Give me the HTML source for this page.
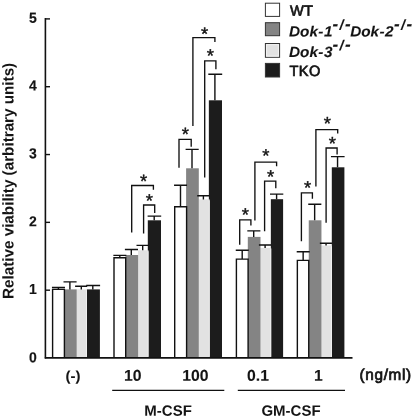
<!DOCTYPE html>
<html lang="en"><head><meta charset="utf-8"><title>Relative viability</title>
<style>
html,body{margin:0;padding:0;background:#fff;}
body{width:414px;height:420px;overflow:hidden;}
svg{display:block;}
text{font-family:"Liberation Sans", Arial, Helvetica, sans-serif;fill:#141414;}
.bi{stroke:#141414;stroke-width:0.1px;}
.bt{font-weight:normal;stroke:#141414;stroke-width:0.5px;letter-spacing:0.35px;}
.b{font-weight:bold;}
.bi{font-weight:bold;font-style:italic;}
.i{font-style:italic;}
.bh{stroke-width:0.7px;}
.bu{stroke-width:0.75px;letter-spacing:0.65px;}
.bd{font-weight:bold;stroke:#141414;stroke-width:0.08px;}
</style></head><body>
<svg width="414" height="420" viewBox="0 0 414 420">
<rect x="0" y="0" width="414" height="420" fill="#ffffff"/>
<g id="bars">
<rect x="86.90" y="289.40" width="13.00" height="68.35" fill="#1c1c1c"/>
<rect x="76.60" y="289.40" width="10.35" height="68.35" fill="#e2e2e2"/>
<rect x="86.05" y="290.40" width="0.9" height="66.35" fill="#f1f1f1"/>
<rect x="64.00" y="289.40" width="12.70" height="68.35" fill="#848484"/>
<path d="M52.60 357.75V289.40H64.40V357.75" fill="#ffffff" stroke="#111111" stroke-width="1.4"/>
<rect x="147.80" y="220.30" width="13.20" height="137.45" fill="#1c1c1c"/>
<rect x="138.00" y="250.30" width="10.50" height="107.45" fill="#e2e2e2"/>
<rect x="147.60" y="251.30" width="0.9" height="105.45" fill="#f1f1f1"/>
<rect x="125.40" y="255.00" width="12.70" height="102.75" fill="#848484"/>
<path d="M114.00 357.75V257.80H125.70V357.75" fill="#ffffff" stroke="#111111" stroke-width="1.4"/>
<rect x="208.85" y="100.30" width="13.15" height="257.45" fill="#1c1c1c"/>
<rect x="198.70" y="199.40" width="11.00" height="158.35" fill="#e2e2e2"/>
<rect x="208.80" y="200.40" width="0.9" height="156.35" fill="#f1f1f1"/>
<rect x="186.10" y="168.30" width="12.70" height="189.45" fill="#848484"/>
<path d="M174.70 357.75V206.80H186.60V357.75" fill="#ffffff" stroke="#111111" stroke-width="1.4"/>
<rect x="270.85" y="199.20" width="12.25" height="158.55" fill="#1c1c1c"/>
<rect x="260.40" y="247.90" width="10.80" height="109.85" fill="#e2e2e2"/>
<rect x="270.30" y="248.90" width="0.9" height="107.85" fill="#f1f1f1"/>
<rect x="247.80" y="236.90" width="12.70" height="120.85" fill="#848484"/>
<path d="M236.40 357.75V259.10H248.10V357.75" fill="#ffffff" stroke="#111111" stroke-width="1.4"/>
<rect x="331.80" y="167.30" width="12.60" height="190.45" fill="#1c1c1c"/>
<rect x="321.35" y="245.50" width="10.65" height="112.25" fill="#e2e2e2"/>
<rect x="331.10" y="246.50" width="0.9" height="110.25" fill="#f1f1f1"/>
<rect x="308.75" y="220.30" width="12.70" height="137.45" fill="#848484"/>
<path d="M297.35 357.75V260.40H308.75V357.75" fill="#ffffff" stroke="#111111" stroke-width="1.4"/>
</g>
<g id="errorbars" stroke="#111111" stroke-width="1.4" fill="none">
<path d="M92.80 289.40V285.50M86.20 285.50H100.10"/>
<path d="M81.30 289.40V286.30M75.10 286.30H87.20"/>
<path d="M69.90 289.40V281.90M63.50 281.90H76.60"/>
<path d="M58.40 289.40V287.50M51.95 287.50H64.95"/>
<path d="M154.20 220.30V216.10M147.60 216.10H161.20"/>
<path d="M142.70 250.30V245.40M136.50 245.40H148.60"/>
<path d="M131.30 255.00V249.50M124.90 249.50H138.00"/>
<path d="M119.80 257.80V255.40M113.35 255.40H126.35"/>
<path d="M214.90 100.30V74.30M208.30 74.30H222.20"/>
<path d="M203.40 199.40V195.80M197.20 195.80H209.30"/>
<path d="M192.00 168.30V149.40M185.60 149.40H198.70"/>
<path d="M180.50 206.80V185.20M174.05 185.20H187.05"/>
<path d="M276.60 199.20V194.10M270.00 194.10H283.30"/>
<path d="M265.10 247.90V245.00M258.90 245.00H271.00"/>
<path d="M253.70 236.90V230.90M247.30 230.90H260.40"/>
<path d="M242.20 259.10V250.20M235.75 250.20H248.75"/>
<path d="M337.55 167.30V156.60M330.95 156.60H344.60"/>
<path d="M326.05 245.50V243.30M319.85 243.30H331.95"/>
<path d="M314.65 220.30V204.30M308.25 204.30H321.35"/>
<path d="M303.15 260.40V251.80M296.70 251.80H309.70"/>
</g>
<g id="axes" stroke="#111111" fill="none">
<path d="M45.4 18.1V358.6" stroke-width="1.6"/>
<path d="M44.8 357.8H352.5" stroke-width="1.7"/>
<path d="M45.4 290.18H50" stroke-width="1.4"/>
<path d="M45.4 222.36H50" stroke-width="1.4"/>
<path d="M45.4 154.54H50" stroke-width="1.4"/>
<path d="M45.4 86.72H50" stroke-width="1.4"/>
<path d="M45.4 18.90H50" stroke-width="1.4"/>
<path d="M112.2 390.3H224.3" stroke-width="1.3"/>
<path d="M237.8 390.3H345" stroke-width="1.3"/>
</g>
<g id="brackets" stroke="#111111" stroke-width="1.35" fill="none">
<path d="M131.7 232.5V185.5H153.4V189.8"/>
<path d="M143.6 233.5V205.0H154.7V213.0"/>
<path d="M192.9 126.0V37.6H214.9V42.1"/>
<path d="M204.7 177.4V60.8H215.9V69.2"/>
<path d="M179.0 167.8V139.4H191.2V146.8"/>
<path d="M254.9 220.6V162.1H276.6V166.2"/>
<path d="M264.6 231.3V181.1H275.8V188.2"/>
<path d="M239.7 244.8V219.8H250.9V225.4"/>
<path d="M315.9 186.5V129.6H337.7V133.5"/>
<path d="M326.1 222.7V148.0H337.1V154.5"/>
<path d="M301.4 241.3V192.8H312.4V198.8"/>
</g>
<g id="stars">
<text class="r" font-size="18.5" text-anchor="middle" transform="translate(143.7 187.4) rotate(0.03) scale(1.0 1.0)" stroke="#141414" stroke-width="0.4">*</text>
<text class="r" font-size="18.5" text-anchor="middle" transform="translate(149.4 206.9) rotate(0.03) scale(1.0 1.0)" stroke="#141414" stroke-width="0.4">*</text>
<text class="r" font-size="18.5" text-anchor="middle" transform="translate(204.7 40.2) rotate(0.03) scale(1.0 1.0)" stroke="#141414" stroke-width="0.4">*</text>
<text class="r" font-size="18.5" text-anchor="middle" transform="translate(210.3 62.0) rotate(0.03) scale(1.0 1.0)" stroke="#141414" stroke-width="0.4">*</text>
<text class="r" font-size="18.5" text-anchor="middle" transform="translate(185.3 140.5) rotate(0.03) scale(1.0 1.0)" stroke="#141414" stroke-width="0.4">*</text>
<text class="r" font-size="18.5" text-anchor="middle" transform="translate(265.9 162.0) rotate(0.03) scale(1.0 1.0)" stroke="#141414" stroke-width="0.4">*</text>
<text class="r" font-size="18.5" text-anchor="middle" transform="translate(270.5 183.0) rotate(0.03) scale(1.0 1.0)" stroke="#141414" stroke-width="0.4">*</text>
<text class="r" font-size="18.5" text-anchor="middle" transform="translate(245.3 221.0) rotate(0.03) scale(1.0 1.0)" stroke="#141414" stroke-width="0.4">*</text>
<text class="r" font-size="18.5" text-anchor="middle" transform="translate(327.3 129.7) rotate(0.03) scale(1.0 1.0)" stroke="#141414" stroke-width="0.4">*</text>
<text class="r" font-size="18.5" text-anchor="middle" transform="translate(332.3 149.8) rotate(0.03) scale(1.0 1.0)" stroke="#141414" stroke-width="0.4">*</text>
<text class="r" font-size="18.5" text-anchor="middle" transform="translate(307.5 194.0) rotate(0.03) scale(1.0 1.0)" stroke="#141414" stroke-width="0.4">*</text>
</g>
<g id="yticks">
<text class="b" font-size="13.2" text-anchor="end" transform="translate(36.9 362.3) rotate(0.03) scale(1.06 1.09)" stroke="#141414" stroke-width="0.15">0</text>
<text class="b" font-size="13.2" text-anchor="end" transform="translate(36.9 293.98) rotate(0.03) scale(1.06 1.09)" stroke="#141414" stroke-width="0.15">1</text>
<text class="b" font-size="13.2" text-anchor="end" transform="translate(36.9 226.16) rotate(0.03) scale(1.06 1.09)" stroke="#141414" stroke-width="0.15">2</text>
<text class="b" font-size="13.2" text-anchor="end" transform="translate(36.9 158.34) rotate(0.03) scale(1.06 1.09)" stroke="#141414" stroke-width="0.15">3</text>
<text class="b" font-size="13.2" text-anchor="end" transform="translate(36.9 90.52) rotate(0.03) scale(1.06 1.09)" stroke="#141414" stroke-width="0.15">4</text>
<text class="b" font-size="13.2" text-anchor="end" transform="translate(36.9 22.7) rotate(0.03) scale(1.06 1.09)" stroke="#141414" stroke-width="0.15">5</text>
</g>
<text class="b" font-size="15" text-anchor="middle" transform="translate(13.5 180.9) rotate(-89.97) scale(1.017 1.04)">Relative viability (arbitrary units)</text>
<g id="xlabels">
<text class="bd" font-size="15" text-anchor="middle" transform="translate(73 380.7) rotate(0.03) scale(1.0 0.95)">(-)</text>
<text class="bd" font-size="15.3" text-anchor="middle" transform="translate(132.7 380.7) rotate(0.03) scale(1.03 1.02)">10</text>
<text class="bd" font-size="15.3" text-anchor="middle" transform="translate(195.5 380.7) rotate(0.03) scale(1.03 1.02)">100</text>
<text class="bd" font-size="15.3" text-anchor="middle" transform="translate(258.0 380.7) rotate(0.03) scale(1.03 1.02)">0.1</text>
<text class="bd" font-size="15.3" text-anchor="middle" transform="translate(318.3 380.7) rotate(0.03) scale(1.03 1.02)">1</text>
<text class="bt bu" font-size="15.3" text-anchor="middle" transform="translate(385.7 379.8) rotate(0.03) scale(1.0 1.0)">(ng/ml)</text>
<text class="b" font-size="15" text-anchor="middle" transform="translate(168.1 415.8) rotate(0.03) scale(1.0 1.0)">M-CSF</text>
<text class="b" font-size="15" text-anchor="middle" transform="translate(291 415.8) rotate(0.03) scale(1.0 1.0)">GM-CSF</text>
</g>
<g id="legend">
<rect x="265.4" y="3.2" width="14.2" height="13.2" fill="#ffffff" stroke="#333333" stroke-width="1"/>
<rect x="265.4" y="22.7" width="14.2" height="13.0" fill="#848484" stroke="#333333" stroke-width="1"/>
<rect x="265.4" y="43.5" width="14.2" height="13.8" fill="#e2e2e2" stroke="#333333" stroke-width="1"/>
<rect x="266.6" y="44.7" width="11.8" height="11.4" fill="none" stroke="#f4f4f4" stroke-width="0.9"/>
<rect x="265.4" y="63.4" width="14.2" height="13.6" fill="#1c1c1c" stroke="#333333" stroke-width="1"/>
<text class="bt bh" font-size="14.6" text-anchor="start" transform="translate(290 15.8) rotate(0.03) scale(1.0 1.02)">WT</text>
<text class="bi" font-size="15.3" text-anchor="start" transform="translate(289 36.5) rotate(0.03) scale(1.0 0.97)">Dok<tspan dx="0.3">-</tspan><tspan dx="0.6">1</tspan></text>
<text class="bi" font-size="14.5" text-anchor="start" transform="translate(332.4 29.8) rotate(0.03) scale(1.0 1.0)" letter-spacing="1.5"><tspan font-size="17">-</tspan>/<tspan font-size="17">-</tspan></text>
<text class="bi" font-size="15.3" text-anchor="start" transform="translate(350.2 36.5) rotate(0.03) scale(1.0 0.97)">Dok<tspan dx="0.3">-</tspan><tspan dx="0.6">2</tspan></text>
<text class="bi" font-size="14.5" text-anchor="start" transform="translate(393.9 29.8) rotate(0.03) scale(1.0 1.0)" letter-spacing="1.5"><tspan font-size="17">-</tspan>/<tspan font-size="17">-</tspan></text>
<text class="bi" font-size="15.3" text-anchor="start" transform="translate(289 57) rotate(0.03) scale(1.0 0.97)">Dok<tspan dx="0.3">-</tspan><tspan dx="0.6">3</tspan></text>
<text class="bi" font-size="14.5" text-anchor="start" transform="translate(332.4 50.3) rotate(0.03) scale(1.0 1.0)" letter-spacing="1.5"><tspan font-size="17">-</tspan>/<tspan font-size="17">-</tspan></text>
<text class="bt bh" font-size="14.6" text-anchor="start" transform="translate(289.6 76.0) rotate(0.03) scale(1.0 1.02)">TKO</text>
</g>
</svg>
</body></html>
